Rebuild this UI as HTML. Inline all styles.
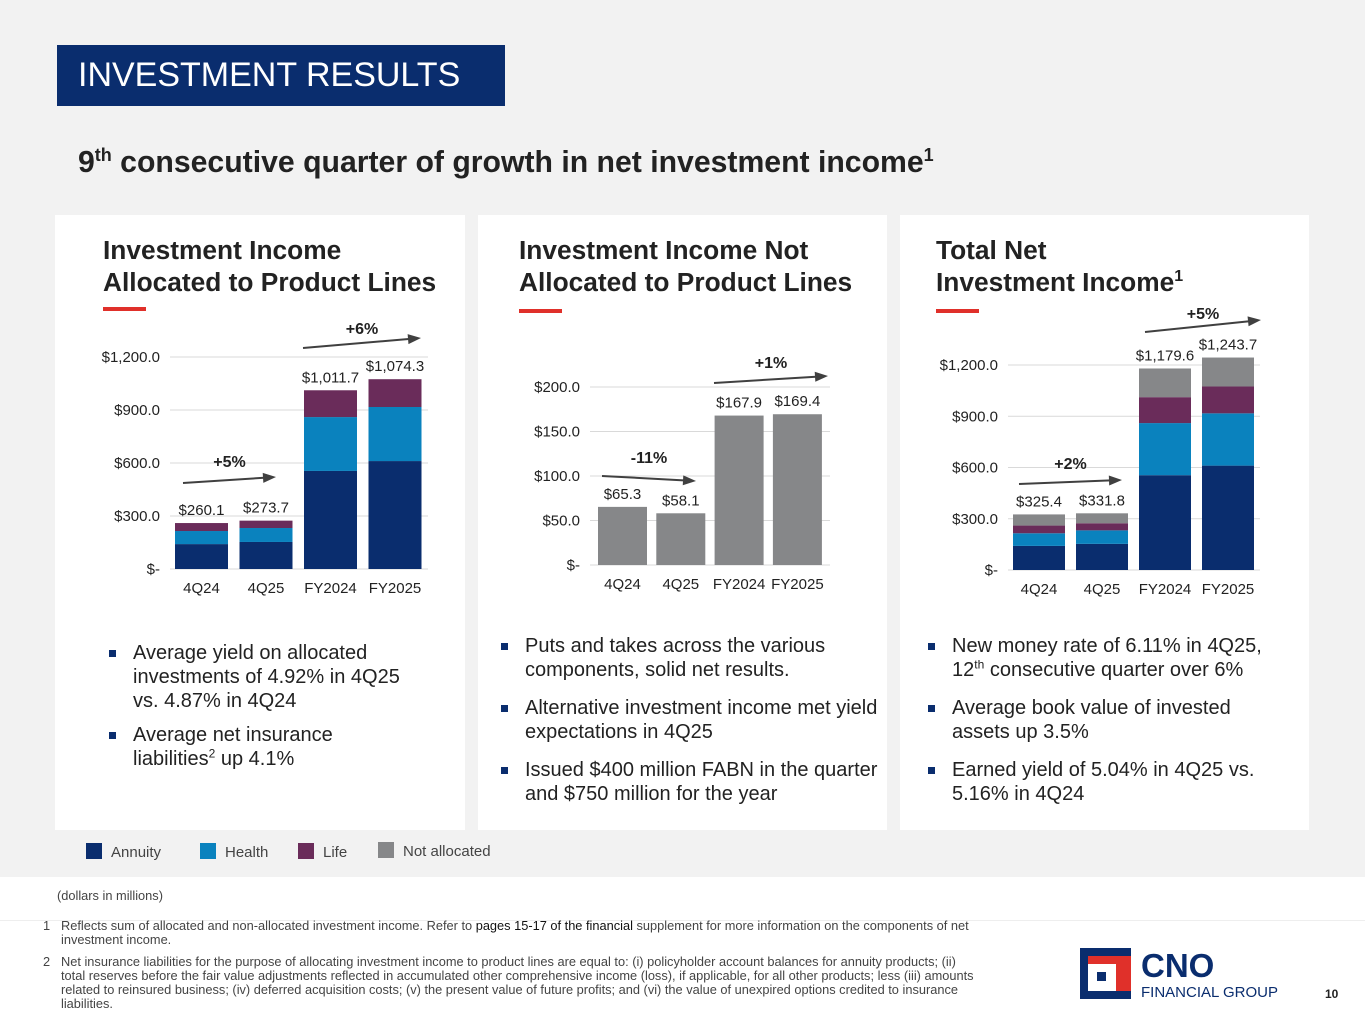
<!DOCTYPE html>
<html><head><meta charset="utf-8"><style>
*{margin:0;padding:0;box-sizing:border-box}
body{width:1365px;height:1024px;position:relative;background:#fff;font-family:"Liberation Sans",Arial,sans-serif;overflow:hidden;color:#222}
.abs{position:absolute}
#gray{left:0;top:0;width:1365px;height:877px;background:#f2f2f2}
.panel{position:absolute;top:215px;height:615px;background:#fff}
.ptitle{position:absolute;font-weight:bold;font-size:26.3px;line-height:32px;color:#222;white-space:nowrap}
.redbar{position:absolute;width:43px;height:4px;background:#e0302a}
ul.b{position:absolute;list-style:none;font-size:20px;line-height:24px;color:#222}
ul.b li{position:relative;padding-left:30px;margin-bottom:14px}
ul.b li:before{content:"";position:absolute;left:6px;top:9px;width:7px;height:7px;background:#0a2d6e}
sup{line-height:0}
.fn{position:absolute;font-size:12.8px;line-height:14px;color:#444}
</style></head><body>
<div id="gray" class="abs"></div>
<div class="abs" style="left:57px;top:45px;width:448px;height:61px;background:#0a2d6e;color:#fff;font-size:34px;line-height:61px;padding-left:21px">INVESTMENT RESULTS</div>
<div class="abs" style="left:78px;top:146px;font-size:30.2px;font-weight:bold;color:#222;white-space:nowrap">9<sup style="font-size:18px">th</sup> consecutive quarter of growth in net investment income<sup style="font-size:18px">1</sup></div>

<div class="panel" style="left:55px;width:410px"></div>
<div class="panel" style="left:478px;width:409px"></div>
<div class="panel" style="left:900px;width:409px"></div>

<div class="ptitle" style="left:103px;top:234px">Investment Income<br>Allocated to Product Lines</div>
<div class="redbar" style="left:103px;top:307px"></div>
<div class="ptitle" style="left:519px;top:234px">Investment Income Not<br>Allocated to Product Lines</div>
<div class="redbar" style="left:519px;top:309px"></div>
<div class="ptitle" style="left:936px;top:234px">Total Net<br>Investment Income<sup style="font-size:16px">1</sup></div>
<div class="redbar" style="left:936px;top:309px"></div>

<svg id="charts" class="abs" style="left:0;top:0" width="1365" height="1024"></svg>

<ul class="b" style="left:103px;top:641px;width:302px">
<li style="margin-bottom:10px">Average yield on allocated investments of 4.92% in 4Q25 vs. 4.87% in 4Q24</li>
<li>Average net insurance liabilities<sup style="font-size:12px">2</sup> up 4.1%</li>
</ul>
<ul class="b" style="left:495px;top:634px;width:390px">
<li>Puts and takes across the various components, solid net results.</li>
<li>Alternative investment income met yield expectations in 4Q25</li>
<li>Issued $400 million FABN in the quarter and $750 million for the year</li>
</ul>
<ul class="b" style="left:922px;top:634px;width:350px">
<li>New money rate of 6.11% in 4Q25, 12<sup style="font-size:12px">th</sup> consecutive quarter over 6%</li>
<li>Average book value of invested assets up 3.5%</li>
<li>Earned yield of 5.04% in 4Q25 vs. 5.16% in 4Q24</li>
</ul>

<div class="abs" style="left:86px;top:843px;font-size:15px;color:#444;line-height:20px">
<span style="position:absolute;left:0;top:0;white-space:nowrap"><i style="display:inline-block;width:16px;height:16px;background:#0a2d6e;vertical-align:-2px;margin-right:9px"></i>Annuity</span>
<span style="position:absolute;left:114px;top:0;white-space:nowrap"><i style="display:inline-block;width:16px;height:16px;background:#0a82be;vertical-align:-2px;margin-right:9px"></i>Health</span>
<span style="position:absolute;left:212px;top:0;white-space:nowrap"><i style="display:inline-block;width:16px;height:16px;background:#6a2c5a;vertical-align:-2px;margin-right:9px"></i>Life</span>
<span style="position:absolute;left:292px;top:-1px;white-space:nowrap"><i style="display:inline-block;width:16px;height:16px;background:#868789;vertical-align:-2px;margin-right:9px"></i>Not allocated</span>
</div>

<div class="fn" style="left:57px;top:889px">(dollars in millions)</div>
<div class="abs" style="left:0;top:920px;width:1365px;height:1px;background:#eee"></div>
<div class="fn" style="left:43px;top:919px;width:935px"><span style="position:absolute;left:0">1</span><div style="margin-left:18px">Reflects sum of allocated and non-allocated investment income. Refer to <span style="color:#111">pages 15-17 of the financial</span> supplement for more information on the components of net investment income.</div></div>
<div class="fn" style="left:43px;top:955px;width:935px"><span style="position:absolute;left:0">2</span><div style="margin-left:18px">Net insurance liabilities for the purpose of allocating investment income to product lines are equal to: (i) policyholder account balances for annuity products; (ii) total reserves before the fair value adjustments reflected in accumulated other comprehensive income (loss), if applicable, for all other products; less (iii) amounts related to reinsured business; (iv) deferred acquisition costs; (v) the present value of future profits; and (vi) the value of unexpired options credited to insurance liabilities.</div></div>

<div class="abs" style="left:1080px;top:948px;width:51px;height:51px;background:#0a2d6e">
<div style="position:absolute;left:8px;top:8px;width:43px;height:35px;background:#e0302a"></div>
<div style="position:absolute;left:8px;top:16px;width:28px;height:27px;background:#fff"></div>
<div style="position:absolute;left:17px;top:24px;width:9px;height:9px;background:#0a2d6e"></div>
</div>
<div class="abs" style="left:1141px;top:949px;font-size:33px;font-weight:bold;color:#0a2d6e;line-height:34px">CNO</div>
<div class="abs" style="left:1141px;top:984px;font-size:15px;color:#0a2d6e">FINANCIAL GROUP</div>
<div class="abs" style="left:1325px;top:987px;font-size:12px;font-weight:bold;color:#222">10</div>

<script>
const categories = ["4Q24", "4Q25", "FY2024", "FY2025"];
const annuity = [141, 153, 555, 611];
const health = [74, 79, 305, 306];
const life = [45.1, 41.7, 151.7, 157.3];
const notAllocated = [65.3, 58.1, 167.9, 169.4];
const allocatedTotals = ["$260.1", "$273.7", "$1,011.7", "$1,074.3"];
const notAllocatedLabels = ["$65.3", "$58.1", "$167.9", "$169.4"];
const totalLabels = ["$325.4", "$331.8", "$1,179.6", "$1,243.7"];
const ticksBig = [0, 300, 600, 900, 1200];
const tickLabelsBig = ["$-", "$300.0", "$600.0", "$900.0", "$1,200.0"];
const ticksSmall = [0, 50, 100, 150, 200];
const tickLabelsSmall = ["$-", "$50.0", "$100.0", "$150.0", "$200.0"];
const growthAllocated = ["+5%", "+6%"];
const growthNotAllocated = ["-11%", "+1%"];
const growthTotal = ["+2%", "+5%"];

const NS = "http://www.w3.org/2000/svg";
const svg = document.getElementById("charts");
const colors = {annuity:"#0a2d6e", health:"#0a82be", life:"#6a2c5a", na:"#868789"};
function mk(tag, attrs, parent) {
  const e = document.createElementNS(NS, tag);
  for (const k in attrs) e.setAttribute(k, attrs[k]);
  (parent || svg).appendChild(e);
  return e;
}
function txt(x, y, s, size, anchor, weight, parent) {
  const t = mk("text", {x:x, y:y, "font-size":size, "text-anchor":anchor, "font-weight":weight || "normal", fill:"#222", "font-family":"Liberation Sans, Arial, sans-serif"}, parent);
  t.textContent = s;
  return t;
}
function arrow(x1, y1, x2, y2, g) {
  mk("line", {x1:x1, y1:y1, x2:x2 - 8, y2:y2 - (y2 - y1) * 8 / (x2 - x1), stroke:"#404040", "stroke-width":2}, g);
  const a = Math.atan2(y2 - y1, x2 - x1);
  const p = [[x2, y2], [x2 - 13 * Math.cos(a) + 5 * Math.sin(a), y2 - 13 * Math.sin(a) - 5 * Math.cos(a)], [x2 - 13 * Math.cos(a) - 5 * Math.sin(a), y2 - 13 * Math.sin(a) + 5 * Math.cos(a)]];
  mk("polygon", {points:p.map(q => q.join(",")).join(" "), fill:"#404040"}, g);
}
function chart(cfg) {
  const g = mk("g", {});
  
  
  const y = v => cfg.base - (v / cfg.max) * (cfg.base - cfg.top);
  const xb = i => cfg.x0 + i * cfg.step;
  cfg.ticks.forEach((t, i) => {
    mk("line", {x1:cfg.gx0, x2:cfg.gx1, y1:y(t), y2:y(t), stroke:"#d9d9d9", "stroke-width":1}, g);
    const l = txt(cfg.gx0 - 10, y(t) + 5, cfg.tickLabels[i], 15, "end", "normal", g);
    
    
  });
  categories.forEach((c, i) => {
    let acc = 0;
    cfg.series.forEach(s => {
      const v = s.data[i];
      const r = mk("rect", {x:xb(i), y:y(acc + v), width:cfg.bw, height:y(acc) - y(acc + v), fill:s.color}, g);
      
      
      acc += v;
    });
    const vl = txt(xb(i) + cfg.bw / 2, y(acc) - 8, cfg.labels[i], 15, "middle", "normal", g);
    
    
    const cl = txt(xb(i) + cfg.bw / 2, cfg.base + 24, c, 15, "middle", "normal", g);
    
    
  });
  cfg.arrows.forEach((a, i) => {
    arrow(a[0], a[1], a[2], a[3], g);
    const t = txt((a[0] + a[2]) / 2, a[4], cfg.growth[i], 16, "middle", "bold", g);
    
    
  });
}
chart({name:"allocated-chart", base:569, top:357, max:1200, x0:175, step:64.5, bw:53, gx0:170, gx1:428,
  ticks:ticksBig, tickLabels:tickLabelsBig, labels:allocatedTotals, growth:growthAllocated,
  series:[{key:"annuity", data:annuity, color:colors.annuity}, {key:"health", data:health, color:colors.health}, {key:"life", data:life, color:colors.life}],
  arrows:[[183, 483, 276, 477, 467], [303, 348, 421, 338, 334]]});
chart({name:"not-allocated-chart", base:565, top:387, max:200, x0:598, step:58.3, bw:49, gx0:590, gx1:830,
  ticks:ticksSmall, tickLabels:tickLabelsSmall, labels:notAllocatedLabels, growth:growthNotAllocated,
  series:[{key:"not-allocated", data:notAllocated, color:colors.na}],
  arrows:[[602, 476, 696, 481, 463], [714, 383, 828, 376, 368]]});
chart({name:"total-chart", base:570, top:365, max:1200, x0:1013, step:63, bw:52, gx0:1008, gx1:1260,
  ticks:ticksBig, tickLabels:tickLabelsBig, labels:totalLabels, growth:growthTotal,
  series:[{key:"annuity", data:annuity, color:colors.annuity}, {key:"health", data:health, color:colors.health}, {key:"life", data:life, color:colors.life}, {key:"not-allocated", data:notAllocated, color:colors.na}],
  arrows:[[1019, 484, 1122, 480, 469], [1145, 332, 1261, 320, 319]]});
</script>
</body></html>
